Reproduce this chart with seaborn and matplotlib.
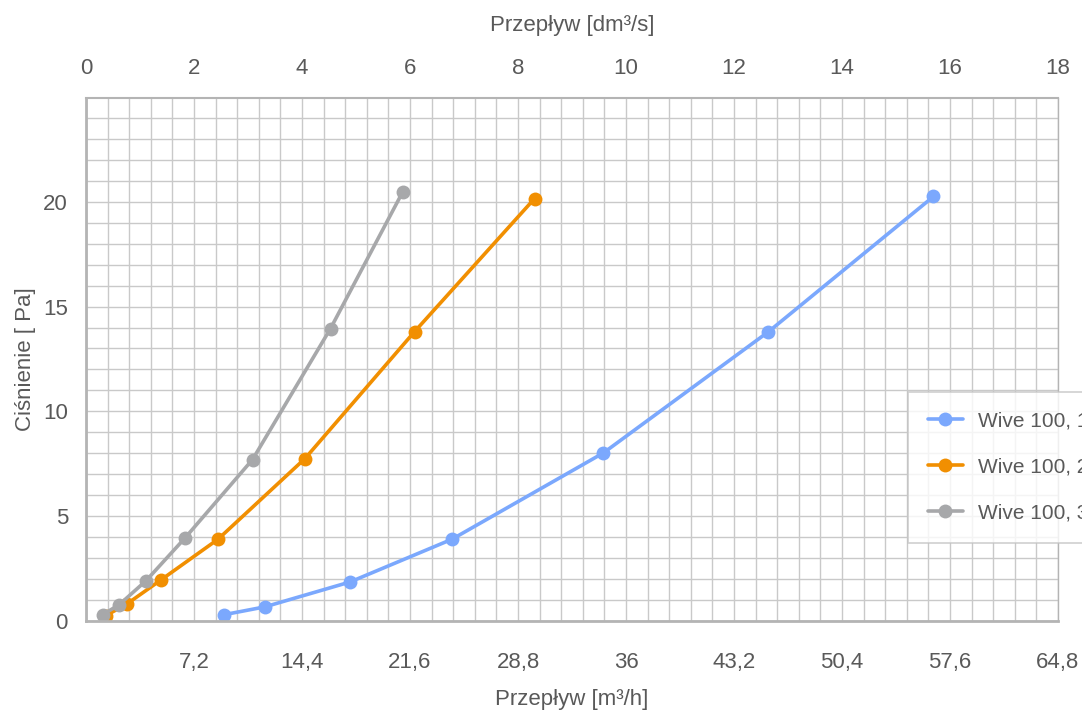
import numpy as np
import pandas as pd
import matplotlib
matplotlib.use("Agg")
import matplotlib.pyplot as plt
import seaborn as sns
from matplotlib.ticker import MultipleLocator, FixedLocator, FuncFormatter

# Wive 100 - charakterystyka przepływu (odczyt z wykresu)

series_names = ["Wive 100, 1 szczelina", "Wive 100, 2 szczeliny", "Wive 100, 3 szczeliny"]

flow_blue = [9.2, 11.9, 17.6, 24.4, 34.5, 45.5, 56.5]
press_blue = [0.3, 0.67, 1.86, 3.9, 8.02, 13.8, 20.25]

flow_orange = [1.3, 2.7, 5.0, 8.8, 14.6, 21.9, 29.9]
press_orange = [0.25, 0.8, 1.96, 3.9, 7.75, 13.8, 20.15]

flow_gray = [1.1, 2.2, 4.0, 6.6, 11.1, 16.3, 21.1]
press_gray = [0.3, 0.77, 1.92, 3.96, 7.7, 13.95, 20.45]

colors = ["#7ba8fd", "#f18f01", "#a7a8aa"]

bottom_ticks = [7.2, 14.4, 21.6, 28.8, 36, 43.2, 50.4, 57.6, 64.8]
top_ticks = [0, 2, 4, 6, 8, 10, 12, 14, 16, 18]
y_ticks = [0, 5, 10, 15, 20]


def build_frame():
    frames = []
    for name, x, y in [(series_names[0], flow_blue, press_blue),
                       (series_names[1], flow_orange, press_orange),
                       (series_names[2], flow_gray, press_gray)]:
        frames.append(pd.DataFrame({"flow": x, "pressure": y, "seria": name}))
    return pd.concat(frames, ignore_index=True)


def comma_fmt(v, pos):
    s = f"{v:.1f}".rstrip("0").rstrip(".")
    return s.replace(".", ",")


def plot_chart(data):
    sns.set_style("white")
    plt.rcParams["font.family"] = ["Liberation Sans", "DejaVu Sans"]
    text_color = "#595959"
    grid_color = "#c9c9c9"

    fig = plt.figure(figsize=(10.82, 7.11), dpi=100)
    ax = fig.add_axes([0.0795, 0.1266, 0.8983, 0.7356])

    sns.lineplot(data=data, x="flow", y="pressure", hue="seria", palette=colors,
                 marker="o", markersize=10, markeredgewidth=0, linewidth=2.6,
                 sort=False, estimator=None, ax=ax, legend=False)

    ax.set_xlim(0, 64.8)
    ax.set_ylim(0, 24.95)

    # siatka główna i pomocnicza
    ax.xaxis.set_major_locator(FixedLocator(bottom_ticks))
    ax.xaxis.set_minor_locator(MultipleLocator(1.44))
    ax.yaxis.set_major_locator(FixedLocator(y_ticks))
    ax.yaxis.set_minor_locator(MultipleLocator(1))
    ax.xaxis.set_major_formatter(FuncFormatter(comma_fmt))
    ax.grid(True, which="both", color=grid_color, linewidth=1.0)
    ax.set_axisbelow(True)

    ax.tick_params(axis="x", which="both", length=0, pad=22, labelsize=16, labelcolor=text_color)
    ax.tick_params(axis="y", which="both", length=0, pad=13, labelsize=16, labelcolor=text_color)

    for side in ["left", "bottom", "top", "right"]:
        ax.spines[side].set_visible(True)
        ax.spines[side].set_color("#b4b4b4")
    ax.spines["left"].set_linewidth(2.0)
    ax.spines["bottom"].set_linewidth(2.0)
    ax.spines["top"].set_linewidth(1.5)
    ax.spines["right"].set_linewidth(1.0)

    ax.set_xlabel("Przepływ [m³/h]", fontsize=16, color=text_color, labelpad=12)
    ax.set_ylabel("Ciśnienie [ Pa]", fontsize=16, color=text_color, labelpad=5)

    # górna oś w dm3/s
    top = ax.secondary_xaxis("top", functions=(lambda v: v / 3.6, lambda v: v * 3.6))
    top.xaxis.set_major_locator(FixedLocator(top_ticks))
    top.tick_params(length=0, pad=14, labelsize=16, labelcolor=text_color)
    top.spines["top"].set_visible(False)
    top.set_xlabel("Przepływ [dm³/s]", fontsize=16, color=text_color, labelpad=19)

    # legenda ucięta przy prawej krawędzi, jak w oryginale
    handles = [plt.Line2D([], [], color=c, marker="o", markersize=10, linewidth=2.6,
                          markeredgewidth=0) for c in colors]
    leg = fig.legend(handles, series_names, loc="upper left",
                     bbox_to_anchor=(0.839, 0.449), fontsize=15, frameon=True,
                     fancybox=False, edgecolor="#c4c4c4", labelcolor=text_color,
                     borderpad=0.95, labelspacing=1.3, handlelength=1.7,
                     handletextpad=0.7, borderaxespad=0)
    leg.get_frame().set_linewidth(1.2)

    fig.savefig("out.png", dpi=100)


plot_chart(build_frame())
